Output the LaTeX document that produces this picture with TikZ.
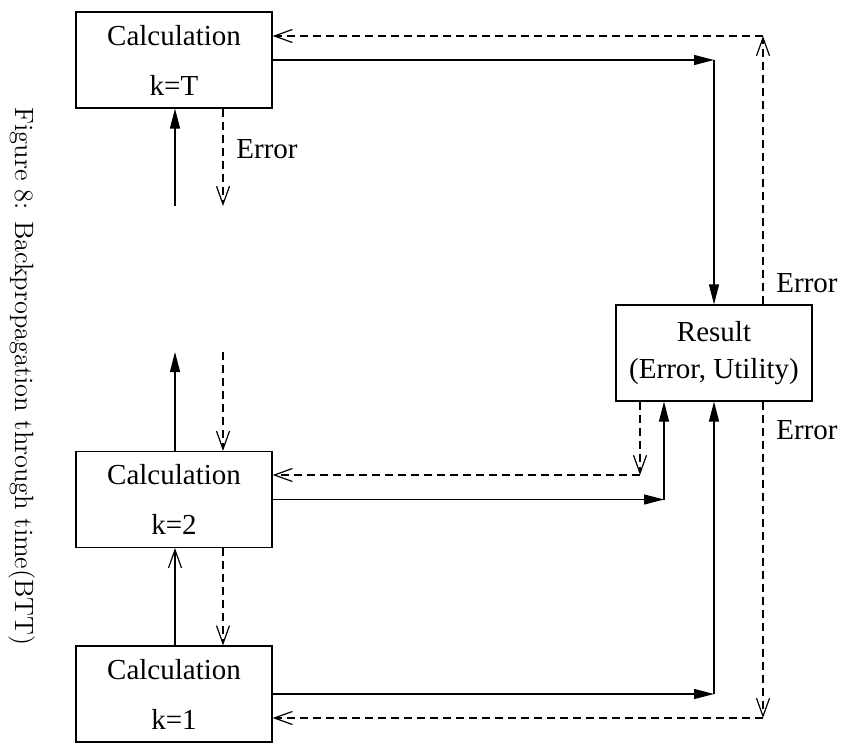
\documentclass[tikz,border=0pt]{standalone}
\usepackage{fontspec}
\newfontfamily\tms{Liberation Serif}
\usetikzlibrary{arrows.meta}
\begin{document}
\begin{tikzpicture}[x=0.5pt,y=-0.5pt,
 box/.style={draw, line width=0.6pt, minimum width=98pt, minimum height=48pt, inner sep=0pt, align=center, font=\tms\fontsize{14.5}{25}\selectfont},
 res/.style={box, font=\tms\fontsize{14.5}{18.5}\selectfont},
 lbl/.style={font=\tms\fontsize{14.5}{17}\selectfont, inner sep=0pt, anchor=west},
 sol/.style={line width=0.6pt, -{Triangle[length=10pt,width=5pt]}},
 das/.style={line width=0.6pt, dash pattern=on 4pt off 2.5pt, -{Straight Barb[length=9pt,width=6.5pt]}},
 opn/.style={line width=0.6pt, -{Straight Barb[length=9pt,width=6.5pt]}},
]
\useasboundingbox (0,0) rectangle (844,743);

\node[box] (T)  at (174,60)    {Calculation\\k=T};
\node[box] (K2) at (174,499.5) {Calculation\\k=2};
\node[box] (K1) at (174,694)   {Calculation\\k=1};
\node[res] (R)  at (714,353)   {Result\\(Error, Utility)};

% top right
\coordinate (c1) at (714,60);
\draw[sol] (T.east) -- (c1);
\draw[sol] (c1) -- (R.north);
\coordinate (c2) at (763,36);
\draw[das] (R.north -| c2) -- (c2);
\draw[das] (c2) -- (T.east |- c2);

% bottom right
\coordinate (c3) at (763,718);
\draw[das] (R.south -| c3) -- (c3);
\draw[das] (c3) -- (K1.east |- c3);
\coordinate (c4) at (714,694);
\draw[sol] (K1.east) -- (c4);
\draw[sol] (c4) -- (R.south);

% middle
\coordinate (c5) at (664,499.5);
\draw[sol] (K2.east) -- (c5);
\draw[sol] (c5) -- (R.south -| c5);
\coordinate (c6) at (640,475);
\draw[das] (R.south -| c6) -- (c6);
\draw[das] (c6) -- (K2.east |- c6);

% left verticals
\coordinate (u1) at (175,206);
\coordinate (d1) at (223,206);
\draw[sol] (u1) -- (T.south -| u1);
\draw[das] (T.south -| d1) -- (d1);
\coordinate (u2) at (175,352);
\coordinate (d2) at (223,352);
\draw[sol] (K2.north -| u2) -- (u2);
\draw[das] (d2) -- (K2.north -| d2);
\draw[opn] (K1.north -| u2) -- (K2.south -| u2);
\draw[das] (K2.south -| d2) -- (K1.north -| d2);

% labels
\node[lbl] (e1) at (236,149) {Error};
\node[lbl] (e2) at (776,283) {Error};
\node[lbl] (e3) at (776,430) {Error};

\node[rotate=-90, anchor=base, inner sep=0pt, font=\fontsize{13.24}{16}\selectfont] (cap) at (15,376.5) {Figure 8: Backpropagation through time(BTT)};
\end{tikzpicture}
\end{document}
